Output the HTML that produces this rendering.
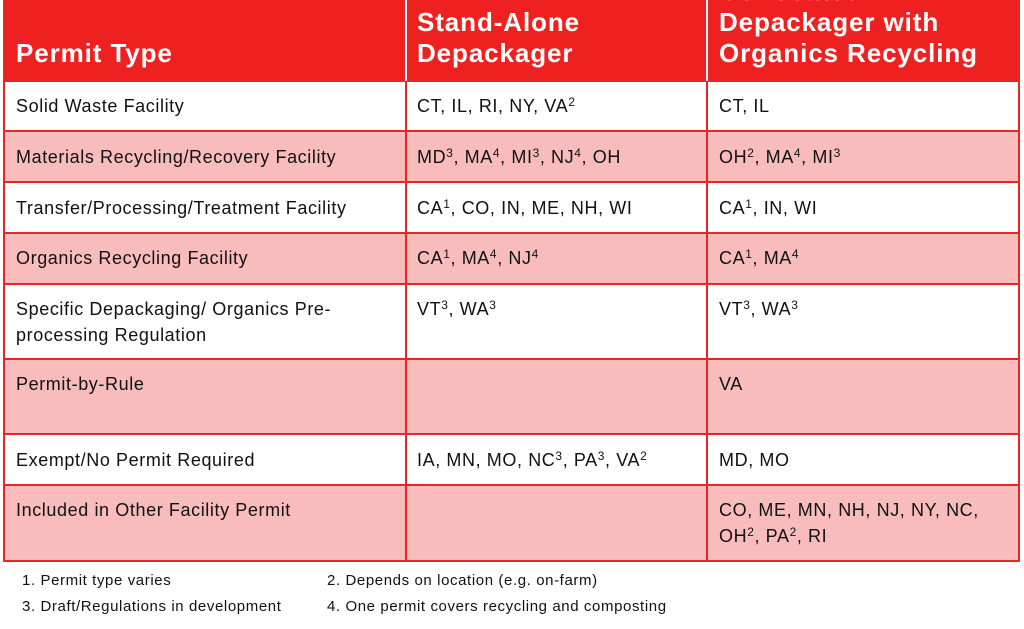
<!DOCTYPE html>
<html><head><meta charset="utf-8"><style>
body{margin:0;width:1024px;height:629px;background:#fff;position:relative;overflow:hidden;font-family:"Liberation Sans",sans-serif;}
.r{position:absolute;left:3px;width:1016px;}
.vl{position:absolute;width:2px;background:#e8262a;}
.hl{position:absolute;left:3px;width:1017px;height:2px;background:#e8262a;}
.t{position:absolute;font-size:18px;color:#111;line-height:26px;letter-spacing:0.6px;white-space:nowrap;}
.h{position:absolute;font-size:26px;font-weight:bold;color:#fff;line-height:31px;letter-spacing:0.9px;white-space:nowrap;}
.f{position:absolute;font-size:15px;color:#111;letter-spacing:0.6px;white-space:nowrap;}
sup{font-size:12px;vertical-align:6px;line-height:0}
</style></head><body>
<div class="r" style="top:0;height:81px;background:#ee2120"></div>
<div class="r" style="top:81px;height:50px;background:#fff"></div>
<div class="r" style="top:131px;height:51px;background:#f8bcbc"></div>
<div class="r" style="top:182px;height:51px;background:#fff"></div>
<div class="r" style="top:233px;height:51px;background:#f8bcbc"></div>
<div class="r" style="top:284px;height:75px;background:#fff"></div>
<div class="r" style="top:359px;height:75px;background:#f8bcbc"></div>
<div class="r" style="top:434px;height:51px;background:#fff"></div>
<div class="r" style="top:485px;height:76px;background:#f8bcbc"></div>
<div class="hl" style="top:80px"></div><div class="hl" style="top:130px"></div><div class="hl" style="top:181px"></div><div class="hl" style="top:232px"></div><div class="hl" style="top:283px"></div><div class="hl" style="top:358px"></div><div class="hl" style="top:433px"></div><div class="hl" style="top:484px"></div><div class="hl" style="top:560px"></div>
<div class="vl" style="left:3px;top:0;height:562px"></div>
<div class="vl" style="left:1018px;top:0;height:562px"></div>
<div class="vl" style="left:405px;top:0;height:562px;background:#fff;width:2px"></div>
<div class="vl" style="left:706px;top:0;height:562px;background:#fff;width:2px"></div>
<div class="vl" style="left:405px;top:81px;height:481px"></div>
<div class="vl" style="left:706px;top:81px;height:481px"></div>
<div class="h" style="left:16px;top:38px">Permit Type</div>
<div class="h" style="left:417px;top:7px">Stand-Alone<br>Depackager</div>
<div class="h" style="left:719px;top:-24px">Co-located<br>Depackager with<br>Organics Recycling</div>
<div class="t" style="left:16px;top:93px">Solid Waste Facility</div>
<div class="t" style="left:417px;top:93px">CT, IL, RI, NY, VA<sup>2</sup></div>
<div class="t" style="left:719px;top:93px">CT, IL</div>
<div class="t" style="left:16px;top:144px">Materials Recycling/Recovery Facility</div>
<div class="t" style="left:417px;top:144px">MD<sup>3</sup>, MA<sup>4</sup>, MI<sup>3</sup>, NJ<sup>4</sup>, OH</div>
<div class="t" style="left:719px;top:144px">OH<sup>2</sup>, MA<sup>4</sup>, MI<sup>3</sup></div>
<div class="t" style="left:16px;top:195px">Transfer/Processing/Treatment Facility</div>
<div class="t" style="left:417px;top:195px">CA<sup>1</sup>, CO, IN, ME, NH, WI</div>
<div class="t" style="left:719px;top:195px">CA<sup>1</sup>, IN, WI</div>
<div class="t" style="left:16px;top:245px">Organics Recycling Facility</div>
<div class="t" style="left:417px;top:245px">CA<sup>1</sup>, MA<sup>4</sup>, NJ<sup>4</sup></div>
<div class="t" style="left:719px;top:245px">CA<sup>1</sup>, MA<sup>4</sup></div>
<div class="t" style="left:16px;top:296px">Specific Depackaging/ Organics Pre-<br>processing Regulation</div>
<div class="t" style="left:417px;top:296px">VT<sup>3</sup>, WA<sup>3</sup></div>
<div class="t" style="left:719px;top:296px">VT<sup>3</sup>, WA<sup>3</sup></div>
<div class="t" style="left:16px;top:371px">Permit-by-Rule</div>
<div class="t" style="left:719px;top:371px">VA</div>
<div class="t" style="left:16px;top:447px">Exempt/No Permit Required</div>
<div class="t" style="left:417px;top:447px">IA, MN, MO, NC<sup>3</sup>, PA<sup>3</sup>, VA<sup>2</sup></div>
<div class="t" style="left:719px;top:447px">MD, MO</div>
<div class="t" style="left:16px;top:497px">Included in Other Facility Permit</div>
<div class="t" style="left:719px;top:497px">CO, ME, MN, NH, NJ, NY, NC,<br>OH<sup>2</sup>, PA<sup>2</sup>, RI</div>
<div class="f" style="left:22px;top:572px">1. Permit type varies</div>
<div class="f" style="left:327px;top:572px">2. Depends on location (e.g. on-farm)</div>
<div class="f" style="left:22px;top:598px">3. Draft/Regulations in development</div>
<div class="f" style="left:327px;top:598px">4. One permit covers recycling and composting</div>
</body></html>
